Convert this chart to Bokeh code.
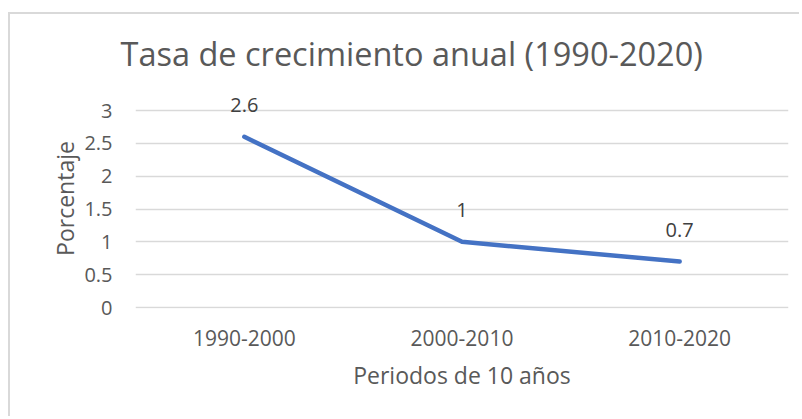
from bokeh.plotting import figure
from bokeh.models import (ColumnDataSource, FactorRange, Range1d, LabelSet,
                          FixedTicker, NumeralTickFormatter)
from bokeh.core.properties import value
from bokeh.embed import file_html
from bokeh.resources import INLINE

# ---- data ----
periods = ["1990-2000", "2000-2010", "2010-2020"]
growth = [2.6, 1.0, 0.7]
y_ticks = [0, 0.5, 1, 1.5, 2, 2.5, 3]
title_text = "Tasa de crecimiento anual (1990-2020)"
x_title = "Periodos de 10 años"
y_title = "Porcentaje"

FONT = "Open Sans"
GREY = "#595959"

src = ColumnDataSource(dict(x=periods, y=growth,
                            lbl=[f"{v:g}" for v in growth]))

p = figure(width=791, height=404,
           x_range=FactorRange(*periods, range_padding=0),
           y_range=Range1d(-0.015, 3.335),
           output_backend="svg", toolbar_location=None,
           min_border_left=125, min_border_right=13,
           min_border_top=74, min_border_bottom=110)
p.margin = (12, 0, 0, 8)
p.styles = {"border-top": "2px solid #D9D9D9", "border-left": "2px solid #D9D9D9"}

p.outline_line_color = None
p.background_fill_color = "white"
p.border_fill_color = "white"

p.title.text = title_text
p.title.text_font = FONT
p.title.text_font_size = "32.5px"
p.title.text_font_style = "normal"
p.title.text_color = GREY
p.title.align = "left"
p.title.offset = -15
p.title.standoff = 26

p.line("x", "y", source=src, line_width=4.5, line_color="#4472C4",
       line_cap="round", line_join="round")

labels = LabelSet(x="x", y="y", text="lbl", source=src, y_offset=32,
                  text_align="center", text_baseline="middle",
                  text_font=value(FONT), text_font_size=value("20px"),
                  text_color="#404040")
p.add_layout(labels)

p.xgrid.grid_line_color = None
p.ygrid.grid_line_color = "#D9D9D9"
p.ygrid.grid_line_width = 1.5

p.yaxis.ticker = FixedTicker(ticks=y_ticks)
p.yaxis.formatter = NumeralTickFormatter(format="0.[0]")

for ax in (p.xaxis[0], p.yaxis[0]):
    ax.axis_line_color = None
    ax.major_tick_line_color = None
    ax.minor_tick_line_color = None
    ax.major_tick_out = 0
    ax.major_tick_in = 0
    ax.major_label_text_font = FONT
    ax.major_label_text_color = GREY
    ax.axis_label_text_font = FONT
    ax.axis_label_text_font_style = "normal"
    ax.axis_label_text_color = GREY
    ax.axis_label_text_font_size = "23px"

p.xaxis.axis_label = x_title
p.xaxis.major_label_text_font_size = "21px"
p.xaxis.major_label_standoff = 21
p.xaxis.axis_label_standoff = 10

p.yaxis.axis_label = y_title
p.yaxis.major_label_text_font_size = "20px"
p.yaxis.major_label_standoff = 23
p.yaxis.axis_label_standoff = 0

open("out.html", "w").write(file_html(p, INLINE))
